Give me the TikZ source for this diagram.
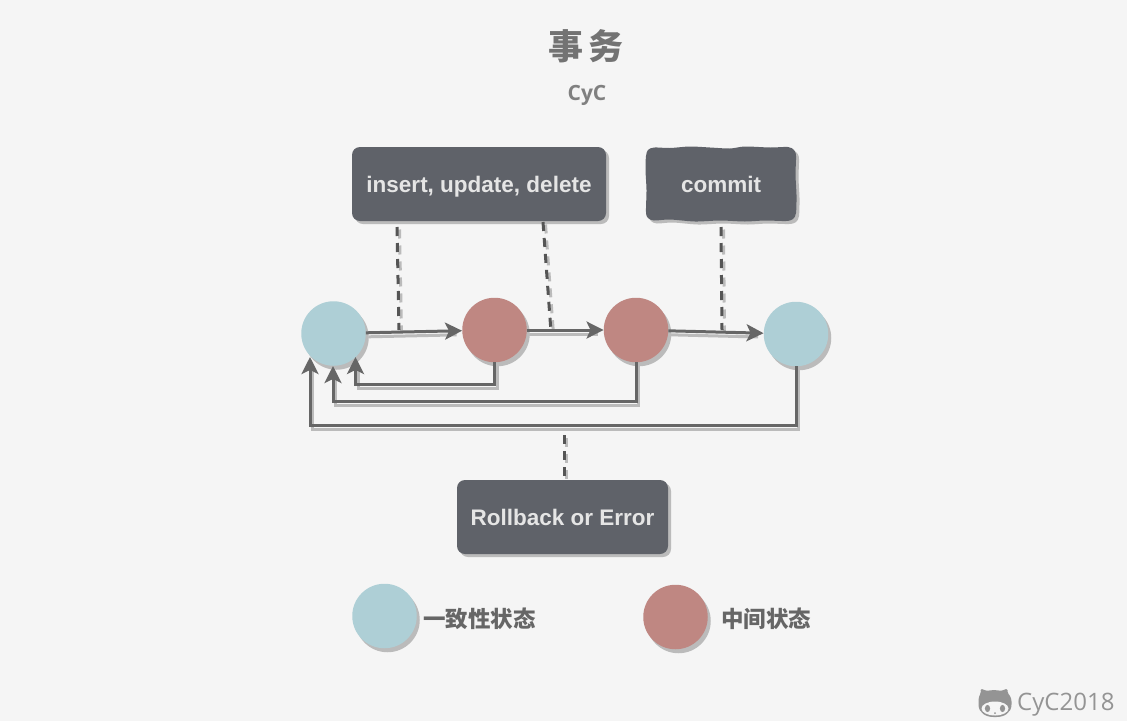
\documentclass[tikz,border=0pt]{standalone}
\usepackage{fontspec}
\setmainfont{Liberation Sans}
\newfontfamily\cjk{Noto Sans CJK SC}
\newfontfamily\wm{Open Sans}
\usetikzlibrary{arrows.meta,shadows,calc}
\definecolor{bg}{HTML}{F5F5F5}
\definecolor{teal1}{HTML}{AECFD6}
\definecolor{red1}{HTML}{BF8782}
\definecolor{boxc}{HTML}{5F6269}
\definecolor{shad}{HTML}{BBBBBB}
\definecolor{linec}{HTML}{666666}
\definecolor{dashc}{HTML}{555555}
\newcommand{\commitoutline}{plot[smooth cycle,tension=0.5] coordinates {(646,156) (648,150) (654,147.5) (670,148) (690,146.5) (710,147.5) (730,148.5) (745,146.5) (770,147.5) (788,147) (794,150) (796,156) (795.5,175) (796.5,195) (796,213) (793,219) (786,221) (765,220.5) (745,221.5) (720,220.5) (695,221.5) (670,219.5) (654,220.5) (648,218) (646,212) (646.5,190) (645.5,170)}}
\tikzset{
  x=1pt,y=-1pt,
  dotshadow/.style={copy shadow={shadow xshift=3pt,shadow yshift=-4pt,fill=shad,draw=none}},
  statenode/.style={circle,inner sep=0pt,minimum size=64.5pt,dotshadow},
  tealstate/.style={statenode,fill=teal1},
  redstate/.style={statenode,fill=red1},
  boxtext/.style={text=white!90!black,font=\fontsize{22.5}{24}\selectfont\bfseries,inner sep=0pt,text height=17pt,text depth=0pt},
  opbox/.style={rectangle,rounded corners=8pt,fill=boxc,boxtext,copy shadow={shadow xshift=3pt,shadow yshift=-3pt,fill=shad,draw=none}},
  flow/.style={draw=linec,line width=3pt,-{Stealth[length=17pt,width=17pt,inset=4pt]}},
  flowshadow/.style={draw=shad,line width=3pt,shorten >=8pt,transform canvas={xshift=2.5pt,yshift=-4pt}},
  dashlink/.style={draw=dashc,line width=3pt,dash pattern=on 9pt off 7pt},
  dashshadow/.style={draw=shad,line width=3pt,dash pattern=on 9pt off 7pt,transform canvas={xshift=2.5pt,yshift=-2.5pt}},
  legendtext/.style={anchor=west,inner sep=0pt,text=linec,font=\cjk\fontsize{22.5}{24}\selectfont\bfseries}
}
\begin{document}
\begin{tikzpicture}
\useasboundingbox (0,0) rectangle (1127,721);
\fill[bg] (0,0) rectangle (1127,721);

\node[inner sep=0pt,text=black!55,font=\cjk\fontsize{35}{37}\selectfont\bfseries] (title) at (586,46.5) {事\hspace{6pt}务};
\node[inner sep=0pt,text=black!50,font=\wm\fontsize{21}{22}\selectfont\bfseries] (sub) at (587,95) {CyC};

% boxes
\node[opbox,minimum width=254pt,minimum height=74pt] (ops) at (479,184) {insert, update, delete};
\fill[shad,shift={(3,3)}] \commitoutline;
\fill[boxc] \commitoutline;
\node[boxtext,minimum width=150pt,minimum height=74pt] (commit) at (721,184) {commit};
\node[opbox,minimum width=211pt,minimum height=74pt] (roll) at (562.5,517) {Rollback or Error};

% state nodes
\node[tealstate] (s1) at (333.5,333.5) {};
\node[redstate] (s2) at (494.5,330) {};
\node[redstate] (s3) at (636,330) {};
\node[tealstate] (s4) at (796,334) {};
\node[tealstate] (l1) at (384.5,616) {};
\node[redstate] (l2) at (675.5,617) {};

\node[legendtext] (l1t) at (423,618.5) {一致性状态};
\node[legendtext] (l2t) at (721,618.5) {中间状态};

% free ends
\coordinate (d1a) at (397,227); \coordinate (d1b) at (399,330);
\coordinate (d2a) at (543,222); \coordinate (d2b) at (551,332);
\coordinate (d3a) at (721,227); \coordinate (d3b) at (722,330);
\coordinate (d4a) at (564,435);
\coordinate (d4b) at (564,480);
\coordinate (tipA) at (355.5,357);
\coordinate (tipB) at (333,366);
\coordinate (tipC) at (310,357);

% dashed shadows
\foreach \a/\b in {d1a/d1b,d2a/d2b,d3a/d3b,d4a/d4b}{\draw[dashshadow] (\a) -- (\b);}

% connector shadows
\draw[flowshadow] (s1) -- (s2);
\draw[flowshadow] (s2) -- (s3);
\draw[flowshadow] (s3) -- (s4);
\draw[flowshadow] (s2.south) -- (s2.south |- 0,384) -| (tipA);
\draw[flowshadow] (s3.south) -- (s3.south |- 0,401) -| (tipB);
\draw[flowshadow] (s4.south) -- (s4.south |- 0,425) -| (tipC);

% dashed links
\foreach \a/\b in {d1a/d1b,d2a/d2b,d3a/d3b,d4a/d4b}{\draw[dashlink] (\a) -- (\b);}

% connectors
\draw[flow] (s1) -- (s2);
\draw[flow] (s2) -- (s3);
\draw[flow] (s3) -- (s4);
\draw[flow] (s2.south) -- (s2.south |- 0,384) -| (tipA);
\draw[flow] (s3.south) -- (s3.south |- 0,401) -| (tipB);
\draw[flow] (s4.south) -- (s4.south |- 0,425) -| (tipC);

% watermark
\fill[black!42,rounded corners=1.5pt] (978.5,703) .. controls (978.5,698) and (979.5,695) .. (981,693) -- (980.5,688.5) -- (987,691) .. controls (991,690) and (997,690) .. (1001,691) -- (1007.5,688.5) -- (1007.5,693) .. controls (1009.5,695) and (1011.5,698) .. (1011.5,703) .. controls (1011.5,713) and (1004,717) .. (995,717) .. controls (986,717) and (978.5,713) .. (978.5,703) -- cycle;
\fill[bg] (995,708.5) ellipse [x radius=13.5, y radius=7];
\fill[black!42] (987.5,708.5) ellipse [x radius=2.6, y radius=3.6];
\fill[black!42] (1002.5,708.5) ellipse [x radius=2.6, y radius=3.6];
\fill[black!42] (995,713) circle (1);
\node[anchor=west,inner sep=0pt,text=black!42,font=\wm\fontsize{24}{26}\selectfont] (wm) at (1017,704.5) {CyC2018};
\end{tikzpicture}
\end{document}
